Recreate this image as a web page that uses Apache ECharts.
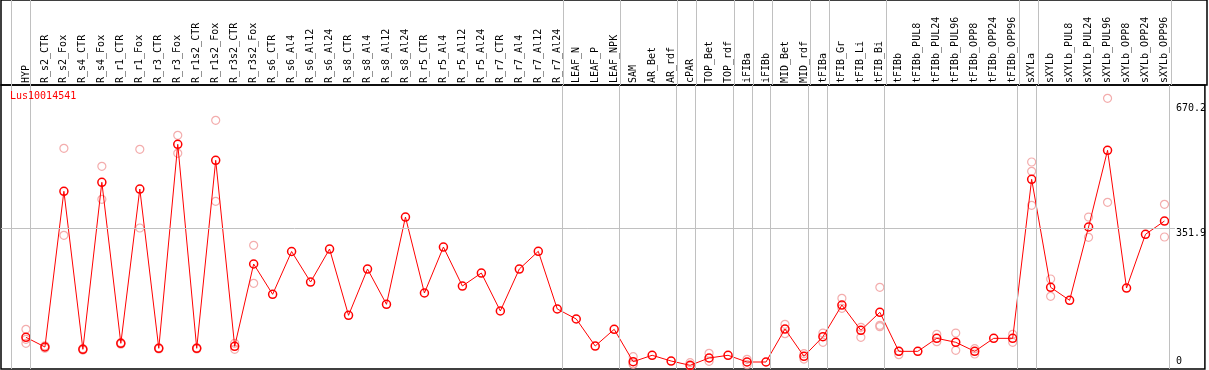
<!DOCTYPE html>
<html>
<head>
<meta charset="utf-8">
<script src="https://cdn.jsdelivr.net/npm/echarts@6/dist/echarts.min.js"></script>
<style>
  html, body { margin: 0; padding: 0; background: #fff; }
  #chart { width: 1209px; height: 370px; }
</style>
</head>
<body>
<div id="chart"></div>
<script>
const gene = "Lus10014541";

const categories = [
  "HYP", "R_s2_CTR", "R_s2_Fox", "R_s4_CTR", "R_s4_Fox", "R_r1_CTR", "R_r1_Fox",
  "R_r3_CTR", "R_r3_Fox", "R_r1s2_CTR", "R_r1s2_Fox", "R_r3s2_CTR", "R_r3s2_Fox",
  "R_s6_CTR", "R_s6_Al4", "R_s6_Al12", "R_s6_Al24", "R_s8_CTR", "R_s8_Al4",
  "R_s8_Al12", "R_s8_Al24", "R_r5_CTR", "R_r5_Al4", "R_r5_Al12", "R_r5_Al24",
  "R_r7_CTR", "R_r7_Al4", "R_r7_Al12", "R_r7_Al24", "LEAF_N", "LEAF_P", "LEAF_NPK",
  "SAM", "AR_Bet", "AR_rdf", "cPAR", "TOP_Bet", "TOP_rdf", "iFIBa", "iFIBb",
  "MID_Bet", "MID_rdf", "tFIBa", "tFIB_Gr", "tFIB_Li", "tFIB_Bi", "tFIBb",
  "tFIBb_PUL8", "tFIBb_PUL24", "tFIBb_PUL96", "tFIBb_OPP8", "tFIBb_OPP24",
  "tFIBb_OPP96", "sXYLa", "sXYLb", "sXYLb_PUL8", "sXYLb_PUL24", "sXYLb_PUL96",
  "sXYLb_OPP8", "sXYLb_OPP24", "sXYLb_OPP96",
];

// mean expression per sample
const means = [
  73.6, 48.9, 445.4, 43.0, 468.3, 58.3, 451.2, 45.6, 565.1, 45.6, 524.3, 50.7, 260.3,
  183.1, 292.1, 214.4, 298.4, 129.6, 247.5, 157.6, 379.9, 186.4, 303.5, 204.2, 237.3,
  140.6, 247.5, 292.6, 145.7, 120.2, 51.4, 94.0,
  11.5, 27.8, 13.2, 2.3, 20.9, 27.8, 10.7, 10.7, 94.7, 25.2, 75.1, 155.8, 91.4, 137.3,
  37.9, 37.9, 71.0, 60.9, 37.9, 71.0, 71.0,
  475.9, 200.9, 167.8, 354.5, 549.8, 199.1, 335.9, 369.7,
];

// individual replicates (only the ones visible apart from the mean)
const replicates = [
  [94.0, 58.3, 68.5], [46, 52], [554.9, 333.3], [41, 45], [509.0, 425.0], [56, 60],
  [552.3, 351.9], [44, 47], [588.0, 542.1], [44, 47], [626.2, 419.9], [43.0, 58.4],
  [307.9, 211.1],
  [], [], [], [], [], [], [], [], [], [], [], [], [], [], [], [], [], [], [],
  [24.2, 5.6, 4.7], [], [], [8.9, 0], [32.8, 12.5], [], [17.6, 3.8], [],
  [106.7, 82.8], [31.8, 18.3], [84.5, 60.9], [172.9, 147.4], [99.1, 73.6],
  [200.9, 104.2, 100.6],
  [29.3, 37.9], [], [81.2, 62.4], [84.5, 40.5], [44.6, 31.1], [], [81.2, 60.9],
  [520.0, 496.3, 409.7], [222.1, 178.0], [], [379.9, 328.2], [682.2, 417.4], [],
  [], [412.3, 329.0],
];

// group separators come right after these sample indices
const sepAfter = [-1, 0, 28, 31, 34, 35, 37, 38, 39, 41, 42, 45, 52, 53, 60];
const yTicksTop = [351.9, 670.2];
const yTicksBottom = [0];

const font = "DejaVu Sans Mono";
const xMin = -1.315;
const xMax = 62.13;
const yMin = -7.1;
const yMax = 716.1;

const sepLines = {
  silent: true,
  symbol: "none",
  label: { show: false },
  lineStyle: { color: "#c0c0c0", width: 1, type: "solid" },
  animation: false,
  data: sepAfter.map((i) => ({ xAxis: i + 0.247 })),
};

const repPoints = [];
replicates.forEach((vals, i) => {
  vals.forEach((v) => repPoints.push([i, v]));
});

const chart = echarts.init(document.getElementById("chart"));

const yLabelAxis = (values, align) => ({
  type: "value",
  gridIndex: 1,
  position: "right",
  min: yMin,
  max: yMax,
  axisLine: { show: false },
  axisTick: { show: false },
  splitLine: { show: false },
  axisLabel: {
    customValues: values,
    margin: -29,
    verticalAlign: align,
    color: "#000",
    fontFamily: font,
    fontSize: 10,
  },
});

const option = {
  animation: false,
  title: {
    text: gene,
    left: 10,
    top: 91,
    padding: 0,
    textStyle: { color: "#ff0000", fontFamily: font, fontSize: 10, fontWeight: "normal" },
  },
  grid: [
    { left: 1, right: 2, top: 0, height: 85, show: true, borderColor: "#000", borderWidth: 1.5 },
    { left: 1, right: 2, top: 85, bottom: 1, show: true, borderColor: "#000", borderWidth: 1.5 },
  ],
  xAxis: [
    {
      type: "value",
      gridIndex: 0,
      min: xMin,
      max: xMax,
      show: false,
    },
    {
      type: "value",
      gridIndex: 1,
      position: "top",
      min: xMin,
      max: xMax,
      axisLine: { show: false },
      axisTick: { show: false },
      splitLine: { show: false },
      axisLabel: {
        customValues: categories.map((c, i) => i),
        formatter: (v) => categories[v],
        rotate: 90,
        margin: 2,
        color: "#000",
        fontFamily: font,
        fontSize: 10,
      },
    },
  ],
  yAxis: [
    { type: "value", gridIndex: 0, min: 0, max: 1, show: false },
    yLabelAxis(yTicksTop, "top"),
    yLabelAxis(yTicksBottom, "bottom"),
  ],
  series: [
    {
      // separators through the label band
      type: "line",
      xAxisIndex: 0,
      yAxisIndex: 0,
      data: [],
      markLine: sepLines,
    },
    {
      name: "replicates",
      type: "scatter",
      xAxisIndex: 1,
      yAxisIndex: 1,
      symbol: "circle",
      symbolSize: 8,
      z: 2,
      itemStyle: { color: "rgba(0,0,0,0)", borderColor: "#f09898", borderWidth: 1.2 },
      data: repPoints,
    },
    {
      name: "mean",
      type: "line",
      xAxisIndex: 1,
      yAxisIndex: 1,
      symbol: "circle",
      symbolSize: 8,
      showAllSymbol: true,
      z: 3,
      lineStyle: { color: "#ff0000", width: 1 },
      itemStyle: { color: "rgba(0,0,0,0)", borderColor: "#ff0000", borderWidth: 1.5 },
      data: means.map((v, i) => [i, v]),
      markLine: {
        ...sepLines,
        data: [
          ...sepLines.data,
          [
            { coord: [xMin, 351.9] },
            { coord: [60.55, 351.9] },
          ],
        ],
      },
    },
  ],
};

chart.setOption(option);
</script>
</body>
</html>
